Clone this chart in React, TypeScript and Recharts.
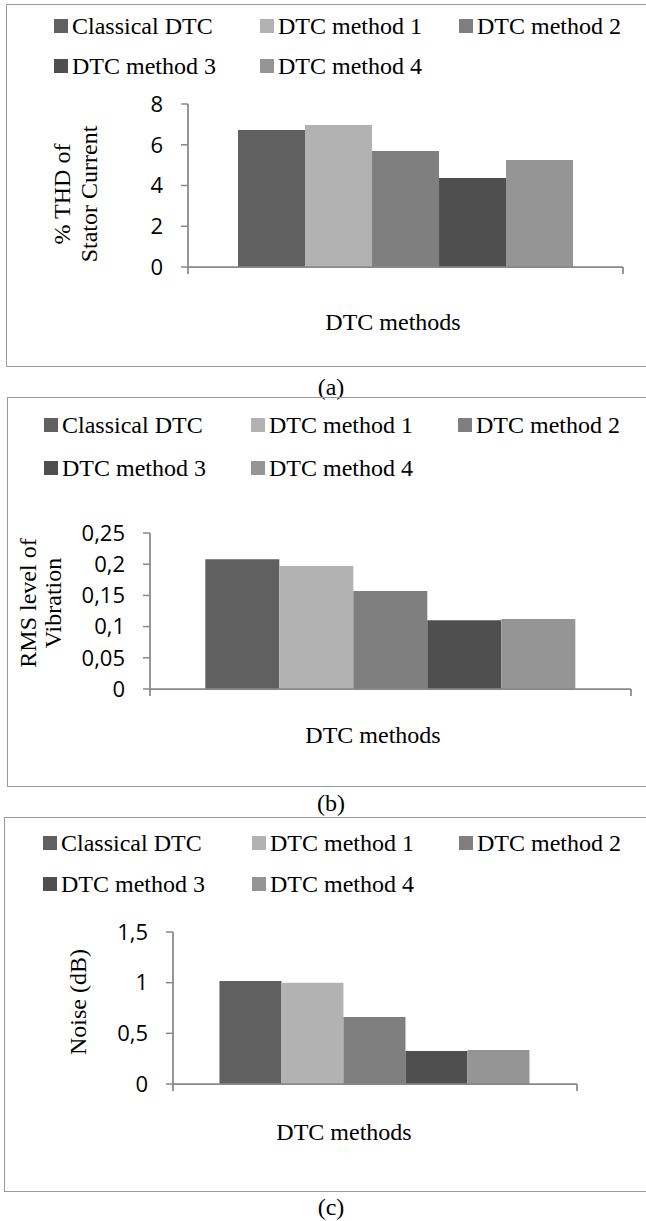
import { BarChart, Bar, XAxis, YAxis, Legend, Label } from "recharts";

// series shared by all three panels
const seriesNames = ["Classical DTC", "DTC method 1", "DTC method 2", "DTC method 3", "DTC method 4"];
const seriesColors = ["#606060", "#b2b2b2", "#7f7f7f", "#4f4f4f", "#959595"];

// (a) % THD of stator current
const thdValues = [6.72, 6.97, 5.69, 4.37, 5.25];
const thdTicks = [0, 2, 4, 6, 8];

// (b) RMS level of vibration
const vibrationValues = [0.208, 0.197, 0.157, 0.11, 0.112];
const vibrationTicks = [0, 0.05, 0.1, 0.15, 0.2, 0.25];

// (c) noise in dB
const noiseValues = [1.016, 1.0, 0.661, 0.326, 0.336];
const noiseTicks = [0, 0.5, 1, 1.5];

const SERIF = '"Liberation Serif", "Times New Roman", serif';
const SANS = '"Open Sans", "Noto Sans", sans-serif';
const AXIS = "#898989";

const toRows = (values: number[]) => {
  const row: Record<string, string | number> = { name: "DTC methods" };
  seriesNames.forEach((s, i) => {
    row[s] = values[i];
  });
  return [row];
};

const commaDecimal = (v: number) => String(v).replace(".", ",");

type PanelProps = {
  values: number[];
  ticks: number[];
  top: number;
  height: number;
  frameLeft: number;
  plotLeft: number;
  plotRight: number;
  plotTop: number;
  xAxisHeight: number;
  legendCols: number[];
  legendRows: number[];
  yTitle: string[];
  yTitleX: number[];
  yTitleY: number;
  xTitleX: number;
  xTitleY: number;
  caption: string;
  captionY: number;
};

function legendContent(cols: number[], rows: number[]) {
  return (props: any) => (
    <div style={{ position: "relative", width: 646, height: 100 }}>
      {(props.payload || []).map((entry: any, i: number) => (
        <div
          key={entry.value}
          style={{
            position: "absolute",
            left: cols[i % 3],
            top: rows[Math.floor(i / 3)] - 15,
            height: 30,
            display: "flex",
            alignItems: "center",
            whiteSpace: "nowrap",
          }}
        >
          <span style={{ display: "inline-block", width: 14, height: 14, background: entry.color, marginRight: 4 }} />
          <span style={{ fontFamily: SERIF, fontSize: 24, color: "#000", lineHeight: "30px" }}>{entry.value}</span>
        </div>
      ))}
    </div>
  );
}

// boundary ticks at both ends of the category axis
const edgeTicks = (left: number, right: number) => (props: any) => (
  <g>
    <line x1={left} x2={left} y1={props.y} y2={props.y + 7} stroke={AXIS} strokeWidth={1.75} />
    <line x1={right} x2={right} y1={props.y} y2={props.y + 7} stroke={AXIS} strokeWidth={1.75} />
  </g>
);

function Panel(p: PanelProps) {
  const max = p.ticks[p.ticks.length - 1];
  return (
    <>
      <div
        style={{
          position: "absolute",
          left: p.frameLeft,
          top: p.top,
          width: 700,
          height: p.height,
          border: "1px solid #9a9a9a",
          boxSizing: "border-box",
        }}
      />
      <div style={{ position: "absolute", left: 0, top: p.top }}>
        <BarChart
          width={646}
          height={p.height}
          data={toRows(p.values)}
          margin={{ top: p.plotTop - p.top, right: 646 - p.plotRight, bottom: 0, left: 0 }}
          barCategoryGap="11.5%"
          barGap={0}
        >
          <XAxis
            dataKey="name"
            height={p.xAxisHeight}
            axisLine={{ stroke: AXIS, strokeWidth: 1.75 }}
            tickLine={false}
            tickSize={0}
            tickMargin={0}
            interval={0}
            tick={edgeTicks(p.plotLeft, p.plotRight)}
          >
            <Label
              content={() => (
                <text x={p.xTitleX} y={p.xTitleY} textAnchor="middle" dominantBaseline="central" fontFamily={SERIF} fontSize={24} fill="#000">
                  DTC methods
                </text>
              )}
            />
          </XAxis>
          <YAxis
            width={p.plotLeft}
            domain={[0, max]}
            ticks={p.ticks}
            interval={0}
            tickFormatter={commaDecimal}
            tickSize={7}
            tickMargin={18}
            axisLine={{ stroke: AXIS, strokeWidth: 1.75 }}
            tickLine={{ stroke: AXIS, strokeWidth: 1.5 }}
            tick={{ fontFamily: SANS, fontSize: 22, fill: "#000" }}
          >
            <Label
              content={() => (
                <g>
                  {p.yTitle.map((line, i) => (
                    <text
                      key={line}
                      x={p.yTitleX[i]}
                      y={p.yTitleY}
                      transform={`rotate(-90, ${p.yTitleX[i]}, ${p.yTitleY})`}
                      textAnchor="middle"
                      dominantBaseline="central"
                      fontFamily={SERIF}
                      fontSize={24}
                      fill="#000"
                    >
                      {line}
                    </text>
                  ))}
                </g>
              )}
            />
          </YAxis>
          {/* centred + middle keeps the legend out of the plot offset */}
          <Legend
            layout="horizontal"
            verticalAlign="middle"
            align="center"
            wrapperStyle={{ top: 0, left: 0, width: 646 }}
            content={legendContent(p.legendCols, p.legendRows)}
          />
          {seriesNames.map((s, i) => (
            <Bar key={s} dataKey={s} fill={seriesColors[i]} isAnimationActive={false} />
          ))}
        </BarChart>
      </div>
      <div
        style={{
          position: "absolute",
          left: 231,
          width: 200,
          top: p.captionY - 14,
          height: 28,
          lineHeight: "28px",
          textAlign: "center",
          fontFamily: SERIF,
          fontSize: 24,
          color: "#000",
        }}
      >
        {p.caption}
      </div>
    </>
  );
}

export default function App() {
  return (
    <div
      style={{
        position: "absolute",
        left: 0,
        top: 0,
        width: 646,
        height: 1221,
        overflow: "hidden",
        background: "#fff",
      }}
    >
      <Panel
        values={thdValues}
        ticks={thdTicks}
        top={4}
        height={363}
        frameLeft={6}
        plotLeft={188}
        plotRight={623}
        plotTop={104}
        xAxisHeight={100}
        legendCols={[54, 260, 459]}
        legendRows={[22, 62]}
        yTitle={["% THD of", "Stator Current"]}
        yTitleX={[62, 89]}
        yTitleY={190}
        xTitleX={393}
        xTitleY={318}
        caption="(a)"
        captionY={387}
      />
      <Panel
        values={vibrationValues}
        ticks={vibrationTicks}
        top={397}
        height={390}
        frameLeft={7}
        plotLeft={150}
        plotRight={631}
        plotTop={533}
        xAxisHeight={98}
        legendCols={[44, 251, 458]}
        legendRows={[28, 71]}
        yTitle={["RMS level of", "Vibration"]}
        yTitleX={[28, 53]}
        yTitleY={206}
        xTitleX={373}
        xTitleY={338}
        caption="(b)"
        captionY={803}
      />
      <Panel
        values={noiseValues}
        ticks={noiseTicks}
        top={817}
        height={375}
        frameLeft={4}
        plotLeft={173}
        plotRight={577}
        plotTop={932}
        xAxisHeight={108}
        legendCols={[43, 252, 459]}
        legendRows={[26, 67]}
        yTitle={["Noise (dB)"]}
        yTitleX={[78]}
        yTitleY={185}
        xTitleX={344}
        xTitleY={315}
        caption="(c)"
        captionY={1207}
      />
    </div>
  );
}
